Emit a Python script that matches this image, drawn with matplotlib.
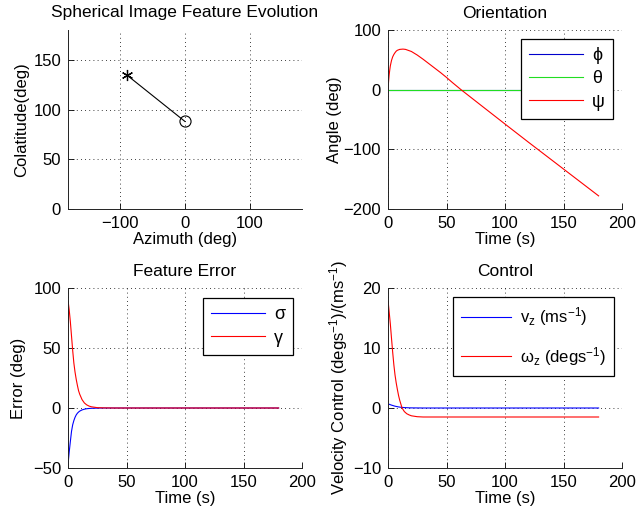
import matplotlib
matplotlib.use('Agg')
import matplotlib.pyplot as plt

plt.rcParams['font.family'] = ['Liberation Sans', 'DejaVu Sans']
plt.rcParams['font.size'] = 12
plt.rcParams['mathtext.fontset'] = 'custom'
plt.rcParams['mathtext.rm'] = 'Liberation Sans'
plt.rcParams['mathtext.it'] = 'Liberation Sans:italic'
plt.rcParams['mathtext.default'] = 'rm'

# spherical image feature path (start -> end)
azimuth = [-90, 0]
colatitude = [135, 88]

# orientation
t_ori = [0, 0.5, 1, 1.5, 2, 3, 4, 5, 6, 7, 8, 10, 12.8, 15, 20, 25, 30, 35, 40, 45,
         50, 55, 62.4, 80, 100, 120, 150, 180]
phi = [0] * len(t_ori)
theta = [0] * len(t_ori)
psi = [0, 14, 25, 33, 40, 49, 55, 59, 62, 64.5, 66, 67.5, 68, 67.5, 64, 58, 51, 43.5,
       36, 28.5, 20.5, 12, 0, -27, -57.6, -88, -133, -178]

# feature error and control
t_err = [0, 0.1, 1, 2, 3, 4, 5, 6, 7, 8, 9, 10, 12, 14, 16, 18, 20, 25, 30, 40, 180]
sigma = [0, -46, -37, -28, -19.5, -14, -10.5, -7.8, -5.8, -4.4, -3.4, -2.6, -1.6, -1.0,
         -0.6, -0.4, -0.25, -0.1, 0, 0, 0]
gamma = [0, 89, 82, 72, 60, 48, 37.5, 30, 24, 19, 14.5, 11.5, 7, 4.2, 2.6, 1.6, 1.0,
         0.3, 0.1, 0, 0]
v_z = [0, 0.7, 0.62, 0.55, 0.48, 0.42, 0.36, 0.3, 0.26, 0.22, 0.18, 0.15, 0.1, 0.07,
       0.05, 0.03, 0.02, 0.01, 0, 0, 0]
w_z = [0, 17.8, 16, 14, 11.6, 9.3, 7.2, 5.5, 4.2, 3.1, 2.1, 1.3, 0.0, -0.6, -0.95,
       -1.15, -1.3, -1.45, -1.5, -1.5, -1.5]

fig = plt.figure(figsize=(6.37, 5.21), dpi=100)
W, H = 637, 521
def axes_px(x0, y0, x1, y1):
    return fig.add_axes([x0 / W, 1 - y1 / H, (x1 - x0) / W, (y1 - y0) / H])

ax1 = axes_px(68, 30, 302, 209)
ax2 = axes_px(388, 30, 622, 209)
ax3 = axes_px(68, 288, 302, 468)
ax4 = axes_px(388, 288, 622, 468)

def matlab_style(ax):
    ax.spines['top'].set_visible(False)
    ax.spines['right'].set_visible(False)
    for s in ('left', 'bottom'):
        ax.spines[s].set_linewidth(0.7)
        ax.spines[s].set_color('#222222')
    ax.tick_params(direction='in', length=4, width=0.6, labelsize=12, pad=5)
    ax.grid(True, color='black', linestyle=(0, (1, 4)), linewidth=0.6)
    ax.set_axisbelow(True)

def legend(ax, x, y, **kw):
    lg = ax.legend(loc='upper right', bbox_to_anchor=(x, y), borderaxespad=0,
                   fancybox=False, framealpha=1, edgecolor='black', **kw)
    lg.get_frame().set_linewidth(0.9)
    return lg

# top left
ax1.plot(azimuth, colatitude, color='black', linewidth=0.8)
ax1.plot(azimuth[0], colatitude[0], marker=(6, 2, 0), color='black', markersize=8,
         markeredgewidth=0.9)
ax1.plot(azimuth[-1], colatitude[-1], marker='o', color='black', markersize=8,
         markerfacecolor='none', markeredgewidth=0.8)
ax1.set_xlim(-180, 180)
ax1.set_ylim(0, 180)
ax1.set_xticks([-100, 0, 100])
ax1.set_yticks([0, 50, 100, 150])
ax1.set_xlabel('Azimuth (deg)', labelpad=1)
ax1.set_ylabel('Colatitude(deg)', labelpad=3)
ax1.set_title('Spherical Image Feature Evolution', fontsize=12.5, pad=9)
matlab_style(ax1)

# top right
ax2.plot(t_ori, phi, color='#0000cc', linewidth=0.8, label='ϕ')
ax2.plot(t_ori, theta, color='#22dd22', linewidth=0.8, label='θ')
ax2.plot(t_ori, psi, color='red', linewidth=0.8, label='ψ')
ax2.set_xlim(0, 200)
ax2.set_ylim(-200, 100)
ax2.set_xticks([0, 50, 100, 150, 200])
ax2.set_yticks([-200, -100, 0, 100])
ax2.set_xlabel('Time (s)', labelpad=1)
ax2.set_ylabel('Angle (deg)', labelpad=1)
ax2.set_title('Orientation', fontsize=12.5, pad=9)
matlab_style(ax2)
legend(ax2, 0.962, 0.95, fontsize=13, labelspacing=0.35, handlelength=3.0,
       handletextpad=0.5, borderpad=0.45)

# bottom left
ax3.plot(t_err, sigma, color='blue', linewidth=0.8, label='σ')
ax3.plot(t_err, gamma, color='red', linewidth=0.8, label='γ')
ax3.set_xlim(0, 200)
ax3.set_ylim(-50, 100)
ax3.set_xticks([0, 50, 100, 150, 200])
ax3.set_yticks([-50, 0, 50, 100])
ax3.set_xlabel('Time (s)', labelpad=1)
ax3.set_ylabel('Error (deg)', labelpad=5)
ax3.set_title('Feature Error', fontsize=12.5, pad=9)
matlab_style(ax3)
legend(ax3, 0.962, 0.944, fontsize=13, labelspacing=0.35, handlelength=3.0,
       handletextpad=0.5, borderpad=0.45)

# bottom right
ax4.plot(t_err, v_z, color='blue', linewidth=0.8, label=r'v$_{z}$ (ms$^{-1}$)')
ax4.plot(t_err, w_z, color='red', linewidth=0.8, label=r'ω$_{z}$ (degs$^{-1}$)')
ax4.set_xlim(0, 200)
ax4.set_ylim(-10, 20)
ax4.set_xticks([0, 50, 100, 150, 200])
ax4.set_yticks([-10, 0, 10, 20])
ax4.set_xlabel('Time (s)', labelpad=1)
ax4.set_ylabel(r'Velocity Control (degs$^{-1}$)/(ms$^{-1}$)', labelpad=2)
ax4.set_title('Control', fontsize=12.5, pad=9)
matlab_style(ax4)
legend(ax4, 0.966, 0.95, fontsize=12, labelspacing=1.0, handlelength=3.0,
       handletextpad=0.5, borderpad=0.5)

fig.savefig('out.png', dpi=100)
